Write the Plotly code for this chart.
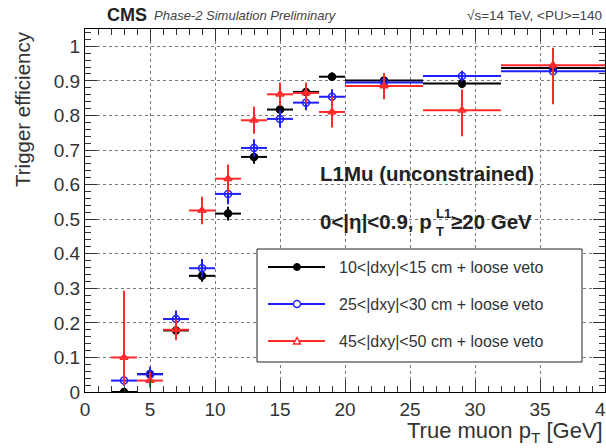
import plotly.graph_objects as go

# Bins of true muon pT [GeV]: centres and half-widths
pt_center = [3, 5, 7, 9, 11, 13, 15, 17, 19, 23, 29, 36]
pt_halfwidth = [1, 1, 1, 1, 1, 1, 1, 1, 1, 3, 3, 4]

# 10<|dxy|<15 cm + loose veto
eff_dxy10 = [0.000, 0.052, 0.178, 0.336, 0.516, 0.680, 0.817, 0.868, 0.912, 0.901, 0.892, 0.937]
eff_dxy10_up = [0.008, 0.020, 0.020, 0.017, 0.020, 0.020, 0.017, 0.015, 0.012, 0.010, 0.012, 0.010]
eff_dxy10_dn = [0.000, 0.020, 0.020, 0.017, 0.020, 0.020, 0.017, 0.015, 0.012, 0.010, 0.012, 0.010]

# 25<|dxy|<30 cm + loose veto
eff_dxy25 = [0.033, 0.051, 0.211, 0.358, 0.573, 0.706, 0.790, 0.837, 0.854, 0.895, 0.914, 0.928]
eff_dxy25_up = [0.015, 0.022, 0.025, 0.027, 0.030, 0.025, 0.025, 0.022, 0.022, 0.012, 0.015, 0.012]
eff_dxy25_dn = [0.015, 0.022, 0.025, 0.027, 0.030, 0.025, 0.025, 0.022, 0.022, 0.012, 0.015, 0.012]

# 45<|dxy|<50 cm + loose veto
eff_dxy45 = [0.100, 0.033, 0.180, 0.525, 0.617, 0.786, 0.861, 0.865, 0.810, 0.885, 0.815, 0.945]
eff_dxy45_up = [0.193, 0.025, 0.030, 0.040, 0.041, 0.039, 0.034, 0.030, 0.045, 0.038, 0.060, 0.051]
eff_dxy45_dn = [0.080, 0.020, 0.030, 0.040, 0.041, 0.039, 0.034, 0.030, 0.045, 0.038, 0.075, 0.113]

series_labels = [
    "10<|dxy|<15 cm + loose veto",
    "25<|dxy|<30 cm + loose veto",
    "45<|dxy|<50 cm + loose veto",
]
series_colors = ["#000000", "#2020ff", "#ff2a2a"]
series_symbols = ["circle", "circle-open", "triangle-up-open"]

# x tick labels (the last one sits on the right frame edge)
x_tick_vals = [0, 5, 10, 15, 20, 25, 30, 35, 40]

FONT = "Liberation Sans, Arial, Helvetica, sans-serif"

W, H = 606, 448
ML, MR, MT, MB = 85, 1, 29, 56
PW, PH = W - ML - MR, H - MT - MB


def px_x(p):
    return (p - ML) / PW


def px_y(p):
    return (H - MB - p) / PH


fig = go.Figure()

series = [
    (eff_dxy10, eff_dxy10_up, eff_dxy10_dn),
    (eff_dxy25, eff_dxy25_up, eff_dxy25_dn),
    (eff_dxy45, eff_dxy45_up, eff_dxy45_dn),
]
for (eff, up, dn), col, sym, lab in zip(series, series_colors, series_symbols, series_labels):
    fig.add_trace(go.Scatter(
        x=pt_center, y=eff, mode="markers", name=lab, showlegend=False,
        marker=dict(symbol=sym, color=col, size=7, line=dict(color=col, width=1.5)),
        error_x=dict(type="data", array=pt_halfwidth, color=col, thickness=2, width=0),
        error_y=dict(type="data", symmetric=False, array=up, arrayminus=dn,
                     color=col, thickness=2, width=0),
        cliponaxis=True,
    ))

axis_common = dict(
    showline=True, linecolor="#000", linewidth=1, mirror="ticks",
    ticks="inside", ticklen=12, tickwidth=1, tickcolor="#333",
    showgrid=True, gridcolor="#7a7a7a", gridwidth=1, griddash="3px,3px",
    zeroline=False,
    tickfont=dict(family=FONT, size=19, color="#333"),
)

fig.update_xaxes(
    range=[0, 40], tickmode="array", tickvals=x_tick_vals,
    ticktext=[str(v) for v in x_tick_vals],
    minor=dict(ticks="inside", ticklen=6, dtick=1, tickcolor="#333", showgrid=False),
    **axis_common,
)
fig.update_yaxes(
    range=[0, 1.05], dtick=0.1, tick0=0,
    minor=dict(ticks="inside", ticklen=6, dtick=0.02, tickcolor="#333", showgrid=False),
    **axis_common,
)

annotations = []
shapes = []

# tick label at the right frame edge, partly cut by the page border
annotations.append(dict(
    text=str(x_tick_vals[-1]), xref="x", yref="paper",
    x=x_tick_vals[-1], y=px_y(397), xanchor="center", yanchor="top", showarrow=False,
    font=dict(family=FONT, size=19, color="#333"),
))

# axis titles
annotations.append(dict(
    text="Trigger efficiency", textangle=-90, xref="paper", yref="paper",
    x=px_x(22), y=1.0, xanchor="center", yanchor="top", showarrow=False,
    font=dict(family=FONT, size=20.5, color="#333"),
))
annotations.append(dict(
    text="True muon p<sub>T</sub> [GeV]", xref="paper", yref="paper",
    x=1.0, y=px_y(432), xanchor="right", yanchor="middle", showarrow=False,
    font=dict(family=FONT, size=22, color="#333"),
))

# header
annotations.append(dict(
    text="<b>CMS</b>", xref="paper", yref="paper", x=px_x(105), y=px_y(15),
    xanchor="left", yanchor="middle", showarrow=False,
    font=dict(family=FONT, size=18, color="#222"),
))
annotations.append(dict(
    text="<i>Phase-2 Simulation Preliminary</i>", xref="paper", yref="paper",
    x=px_x(152), y=px_y(16), xanchor="left", yanchor="middle", showarrow=False,
    font=dict(family=FONT, size=13, color="#444"),
))
annotations.append(dict(
    text="√s=14 TeV, <PU>=140", xref="paper", yref="paper",
    x=px_x(604), y=px_y(16), xanchor="right", yanchor="middle", showarrow=False,
    font=dict(family=FONT, size=13.5, color="#444"),
))

# selection text
annotations.append(dict(
    text="<b>L1Mu (unconstrained)</b>", xref="paper", yref="paper",
    x=px_x(318), y=px_y(173), xanchor="left", yanchor="middle", showarrow=False,
    font=dict(family=FONT, size=20.5, color="#222"),
))
annotations.append(dict(
    text="<b>0<|η|<0.9, p</b>", xref="paper", yref="paper",
    x=px_x(318), y=px_y(222), xanchor="left", yanchor="middle", showarrow=False,
    font=dict(family=FONT, size=20.5, color="#222"),
))
annotations.append(dict(
    text="<b>L1</b>", xref="paper", yref="paper",
    x=px_x(434), y=px_y(213), xanchor="left", yanchor="middle", showarrow=False,
    font=dict(family=FONT, size=13, color="#222"),
))
annotations.append(dict(
    text="<b>T</b>", xref="paper", yref="paper",
    x=px_x(434), y=px_y(231), xanchor="left", yanchor="middle", showarrow=False,
    font=dict(family=FONT, size=13, color="#222"),
))
annotations.append(dict(
    text="<b>≥20 GeV</b>", xref="paper", yref="paper",
    x=px_x(449), y=px_y(222), xanchor="left", yanchor="middle", showarrow=False,
    font=dict(family=FONT, size=20.5, color="#222"),
))

# legend box
shapes.append(dict(
    type="rect", xref="paper", yref="paper",
    x0=px_x(257), x1=px_x(582), y0=px_y(362), y1=px_y(249),
    line=dict(color="#222", width=1), fillcolor="white", layer="above",
))
entry_y = [267, 304, 341]
for yy, col, sym, lab in zip(entry_y, series_colors, series_symbols, series_labels):
    shapes.append(dict(
        type="line", xref="paper", yref="paper",
        x0=px_x(268), x1=px_x(325), y0=px_y(yy), y1=px_y(yy),
        line=dict(color=col, width=2), layer="above",
    ))
    mx, my = px_x(297), px_y(yy)
    if sym == "circle":
        shapes.append(dict(
            type="circle", xref="paper", yref="paper", xsizemode="pixel", ysizemode="pixel",
            xanchor=mx, yanchor=my, x0=-3.5, x1=3.5, y0=-3.5, y1=3.5,
            line=dict(color=col, width=1), fillcolor=col, layer="above",
        ))
    elif sym == "circle-open":
        shapes.append(dict(
            type="circle", xref="paper", yref="paper", xsizemode="pixel", ysizemode="pixel",
            xanchor=mx, yanchor=my, x0=-3.5, x1=3.5, y0=-3.5, y1=3.5,
            line=dict(color=col, width=1.5), fillcolor="white", layer="above",
        ))
    else:
        shapes.append(dict(
            type="path", xref="paper", yref="paper", xsizemode="pixel", ysizemode="pixel",
            xanchor=mx, yanchor=my, path="M -3.5 -3 L 3.5 -3 L 0 3.5 Z",
            line=dict(color=col, width=1.5), fillcolor="white", layer="above",
        ))
    annotations.append(dict(
        text=lab, xref="paper", yref="paper", x=px_x(337), y=px_y(yy),
        xanchor="left", yanchor="middle", showarrow=False,
        font=dict(family=FONT, size=16, color="#333"),
    ))

fig.update_layout(
    width=W, height=H,
    margin=dict(l=ML, r=MR, t=MT, b=MB, autoexpand=False),
    paper_bgcolor="white", plot_bgcolor="white",
    showlegend=False,
    annotations=annotations,
    shapes=shapes,
)

fig.write_html("out.html")
